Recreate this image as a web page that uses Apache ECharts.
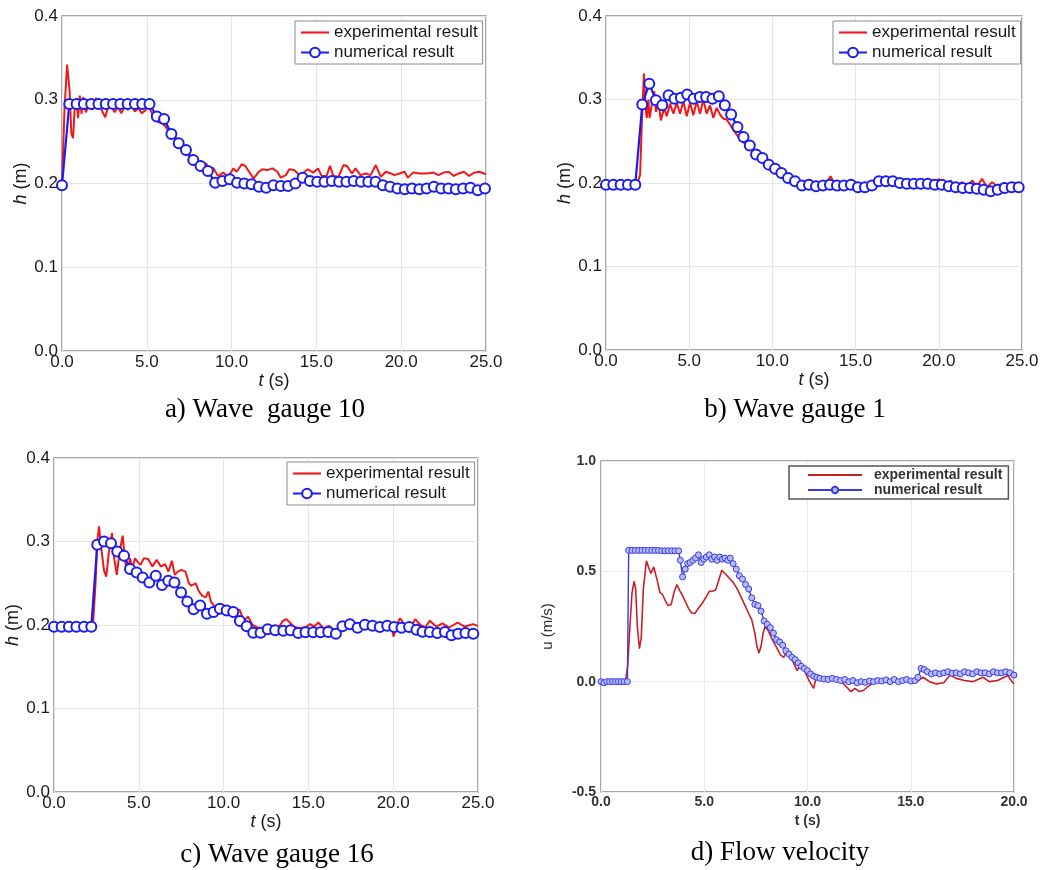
<!DOCTYPE html>
<html>
<head>
<meta charset="utf-8">
<script src="https://cdn.jsdelivr.net/npm/echarts@6/dist/echarts.min.js"></script>
<style>
html,body{margin:0;padding:0;background:#fff;}
#chart{width:1053px;height:870px;}
</style>
</head>
<body>
<div id="chart"></div>
<script>
// ---------- DATA ----------
const legendLabels = ['experimental result', 'numerical result'];
const captions = ['a) Wave  gauge 10', 'b) Wave gauge 1', 'c) Wave gauge 16', 'd) Flow velocity'];
const hTicks = [0.0, 0.1, 0.2, 0.3, 0.4];
const uTicks = [-0.5, 0.0, 0.5, 1.0];

// a) wave gauge 10  [t (s), h (m)]
const expA = [[0,0.200],[0.15,0.29],[0.3,0.342],[0.45,0.31],[0.55,0.26],[0.65,0.254],[0.75,0.29],[0.85,0.302],[0.95,0.278],[1.05,0.305],[1.15,0.283],[1.25,0.303],[1.4,0.285],[1.6,0.293],[1.8,0.288],[2.0,0.302],[2.2,0.295],[2.4,0.285],[2.55,0.279],[2.7,0.29],[2.9,0.293],[3.1,0.285],[3.3,0.291],[3.5,0.284],[3.7,0.292],[3.9,0.288],[4.1,0.294],[4.3,0.286],[4.5,0.29],[4.7,0.284],[4.9,0.287],[5.1,0.293],[5.3,0.284],[5.5,0.276],[5.7,0.273],[5.9,0.272],[6.1,0.268],[6.3,0.262],[6.5,0.256],[6.7,0.255],[6.9,0.252],[7.1,0.243],[7.3,0.236],[7.5,0.233],[7.7,0.23],[7.9,0.226],[8.1,0.224],[8.3,0.222],[8.5,0.224],[8.7,0.215],[8.9,0.219],[9.2,0.209],[9.5,0.213],[9.8,0.208],[10.1,0.218],[10.3,0.214],[10.6,0.223],[10.8,0.221],[11.1,0.212],[11.3,0.206],[11.6,0.214],[11.8,0.217],[12.1,0.216],[12.4,0.218],[12.7,0.214],[12.9,0.207],[13.2,0.210],[13.4,0.217],[13.7,0.216],[13.9,0.212],[14.1,0.207],[14.3,0.214],[14.5,0.217],[14.8,0.213],[15.1,0.218],[15.3,0.209],[15.6,0.209],[15.8,0.221],[16.0,0.209],[16.3,0.208],[16.6,0.222],[16.8,0.221],[17.1,0.212],[17.3,0.218],[17.6,0.210],[17.9,0.212],[18.2,0.210],[18.5,0.222],[18.8,0.208],[19.1,0.214],[19.4,0.212],[19.6,0.210],[19.9,0.212],[20.2,0.214],[20.4,0.207],[20.7,0.213],[21.1,0.212],[21.5,0.212],[21.9,0.213],[22.2,0.210],[22.5,0.213],[22.8,0.214],[23.1,0.209],[23.4,0.212],[23.7,0.214],[24.0,0.209],[24.3,0.213],[24.6,0.214],[25.0,0.211]];
const numA = [[0,0.198],[0.43,0.295],[0.86,0.295],[1.29,0.295],[1.72,0.295],[2.15,0.295],[2.58,0.295],[3.01,0.295],[3.44,0.295],[3.87,0.295],[4.30,0.295],[4.73,0.295],[5.16,0.295],[5.59,0.280],[6.02,0.277],[6.45,0.259],[6.88,0.248],[7.31,0.240],[7.74,0.228],[8.17,0.221],[8.60,0.215],[9.03,0.201],[9.46,0.203],[9.89,0.205],[10.32,0.201],[10.75,0.200],[11.18,0.199],[11.61,0.196],[12.04,0.195],[12.47,0.198],[12.90,0.197],[13.33,0.197],[13.76,0.200],[14.19,0.207],[14.62,0.203],[15.05,0.202],[15.48,0.202],[15.91,0.203],[16.34,0.202],[16.77,0.202],[17.20,0.203],[17.63,0.202],[18.06,0.202],[18.49,0.202],[18.92,0.198],[19.35,0.196],[19.78,0.194],[20.21,0.193],[20.64,0.194],[21.07,0.193],[21.50,0.194],[21.93,0.196],[22.36,0.194],[22.79,0.194],[23.22,0.193],[23.65,0.194],[24.08,0.195],[24.51,0.192],[24.94,0.194]];

// b) wave gauge 1
const expB = [[0,0.199],[0.5,0.199],[1.0,0.199],[1.5,0.199],[1.9,0.2],[2.05,0.21],[2.15,0.27],[2.28,0.331],[2.38,0.29],[2.45,0.278],[2.55,0.3],[2.62,0.278],[2.72,0.29],[2.9,0.31],[3.0,0.285],[3.15,0.297],[3.3,0.275],[3.5,0.29],[3.65,0.28],[3.85,0.295],[4.05,0.283],[4.25,0.296],[4.45,0.283],[4.65,0.298],[4.85,0.28],[5.05,0.296],[5.25,0.281],[5.45,0.298],[5.65,0.283],[5.85,0.3],[6.05,0.283],[6.25,0.293],[6.45,0.278],[6.65,0.29],[6.85,0.282],[7.05,0.277],[7.25,0.276],[7.45,0.27],[7.7,0.262],[8.0,0.254],[8.3,0.248],[8.6,0.243],[8.9,0.236],[9.2,0.232],[9.5,0.226],[9.8,0.222],[10.1,0.221],[10.4,0.215],[10.7,0.213],[10.95,0.211],[11.2,0.205],[11.5,0.2],[11.8,0.197],[12.1,0.196],[12.4,0.193],[12.7,0.195],[12.9,0.196],[13.2,0.2],[13.5,0.208],[13.8,0.196],[14.0,0.191],[14.3,0.198],[14.6,0.197],[15.0,0.201],[15.3,0.196],[15.6,0.2],[15.9,0.194],[16.3,0.198],[16.7,0.2],[17.1,0.198],[17.5,0.201],[17.9,0.196],[18.2,0.2],[18.5,0.196],[18.8,0.205],[19.1,0.197],[19.4,0.204],[19.7,0.196],[20.0,0.205],[20.4,0.195],[20.7,0.203],[21.0,0.196],[21.4,0.201],[21.7,0.195],[22.0,0.203],[22.3,0.196],[22.6,0.205],[22.9,0.195],[23.2,0.201],[23.5,0.196],[23.9,0.2],[24.2,0.195],[24.6,0.2],[25.0,0.197]];
const numB = [[0,0.198],[0.44,0.198],[0.88,0.198],[1.32,0.198],[1.76,0.198],[2.18,0.294],[2.6,0.319],[3.0,0.299],[3.38,0.293],[3.76,0.305],[4.12,0.301],[4.5,0.302],[4.88,0.306],[5.26,0.301],[5.64,0.303],[6.02,0.303],[6.4,0.301],[6.78,0.304],[7.14,0.293],[7.52,0.282],[7.9,0.267],[8.26,0.255],[8.64,0.245],[9.02,0.234],[9.4,0.230],[9.78,0.222],[10.16,0.217],[10.54,0.212],[10.94,0.206],[11.36,0.202],[11.78,0.197],[12.2,0.198],[12.62,0.196],[13.04,0.197],[13.46,0.198],[13.88,0.197],[14.3,0.197],[14.72,0.198],[15.14,0.195],[15.56,0.195],[15.98,0.197],[16.4,0.202],[16.82,0.202],[17.24,0.202],[17.66,0.2],[18.08,0.199],[18.5,0.199],[18.92,0.199],[19.34,0.199],[19.76,0.198],[20.18,0.198],[20.6,0.196],[21.02,0.195],[21.44,0.194],[21.86,0.194],[22.28,0.193],[22.7,0.192],[23.12,0.190],[23.54,0.192],[23.96,0.194],[24.38,0.195],[24.8,0.195]];

// c) wave gauge 16
const expC = [[0,0.198],[0.5,0.198],[1.0,0.198],[1.5,0.198],[2.0,0.198],[2.3,0.2],[2.45,0.25],[2.55,0.3],[2.65,0.318],[2.8,0.29],[2.95,0.265],[3.08,0.258],[3.25,0.29],[3.42,0.31],[3.55,0.28],[3.7,0.26],[3.85,0.285],[4.05,0.307],[4.2,0.275],[4.34,0.262],[4.48,0.28],[4.62,0.268],[4.78,0.28],[4.95,0.275],[5.1,0.272],[5.3,0.28],[5.55,0.279],[5.8,0.27],[6.05,0.278],[6.3,0.27],[6.55,0.273],[6.75,0.264],[6.95,0.277],[7.12,0.26],[7.3,0.264],[7.5,0.266],[7.75,0.264],[7.95,0.25],[8.1,0.247],[8.35,0.25],[8.55,0.24],[8.75,0.235],[8.95,0.233],[9.1,0.24],[9.25,0.228],[9.45,0.223],[9.7,0.222],[9.95,0.224],[10.2,0.222],[10.45,0.214],[10.7,0.219],[10.95,0.218],[11.2,0.205],[11.45,0.21],[11.7,0.2],[12.0,0.197],[12.4,0.196],[12.9,0.197],[13.3,0.199],[13.5,0.205],[13.7,0.207],[13.95,0.202],[14.15,0.198],[14.5,0.196],[14.9,0.198],[15.1,0.201],[15.35,0.198],[15.58,0.203],[15.9,0.196],[16.2,0.199],[16.6,0.193],[16.95,0.202],[17.3,0.198],[17.7,0.203],[18.0,0.195],[18.3,0.201],[18.6,0.2],[18.95,0.196],[19.3,0.201],[19.65,0.196],[19.9,0.199],[20.02,0.186],[20.2,0.2],[20.4,0.208],[20.7,0.2],[21.0,0.196],[21.3,0.207],[21.6,0.2],[21.9,0.197],[22.15,0.205],[22.55,0.198],[22.9,0.202],[23.3,0.197],[23.8,0.203],[24.2,0.198],[24.7,0.201],[25.0,0.199]];
const numC = [[0,0.198],[0.45,0.198],[0.88,0.198],[1.32,0.198],[1.77,0.198],[2.2,0.198],[2.55,0.296],[2.95,0.300],[3.36,0.298],[3.73,0.288],[4.13,0.283],[4.48,0.267],[4.87,0.263],[5.23,0.257],[5.62,0.251],[6.0,0.259],[6.37,0.248],[6.74,0.253],[7.1,0.251],[7.49,0.239],[7.86,0.228],[8.23,0.219],[8.62,0.2235],[9.02,0.2135],[9.41,0.2155],[9.78,0.2195],[10.18,0.2175],[10.57,0.2155],[10.96,0.2048],[11.36,0.1984],[11.75,0.1908],[12.18,0.1908],[12.6,0.195],[13.04,0.1936],[13.52,0.193],[13.95,0.1936],[14.4,0.1904],[14.83,0.1912],[15.28,0.1912],[15.72,0.1912],[16.17,0.1916],[16.62,0.1896],[17.01,0.1984],[17.45,0.2008],[17.9,0.1968],[18.33,0.2004],[18.78,0.1992],[19.21,0.1976],[19.65,0.1992],[20.06,0.1976],[20.49,0.1968],[20.94,0.1976],[21.37,0.1944],[21.73,0.192],[22.16,0.1916],[22.6,0.1904],[23.05,0.1916],[23.44,0.1876],[23.83,0.1896],[24.26,0.1904],[24.72,0.1896]];

// d) flow velocity  [t (s), u (m/s)]
const expD = [[0,0],[0.4,0],[0.8,0],[1.1,0],[1.2,0.01],[1.3,0.08],[1.4,0.25],[1.5,0.4],[1.6,0.455],[1.68,0.42],[1.76,0.25],[1.86,0.15],[1.95,0.2],[2.05,0.42],[2.2,0.548],[2.3,0.52],[2.42,0.49],[2.55,0.52],[2.62,0.525],[2.72,0.46],[2.85,0.405],[2.98,0.395],[3.1,0.37],[3.25,0.345],[3.4,0.35],[3.55,0.41],[3.68,0.44],[3.8,0.415],[3.95,0.39],[4.1,0.36],[4.25,0.33],[4.4,0.31],[4.55,0.31],[4.7,0.33],[4.9,0.355],[5.1,0.385],[5.25,0.41],[5.4,0.41],[5.55,0.415],[5.7,0.46],[5.85,0.505],[6.0,0.49],[6.2,0.47],[6.4,0.45],[6.6,0.42],[6.8,0.38],[7.0,0.34],[7.15,0.31],[7.3,0.28],[7.45,0.22],[7.55,0.16],[7.65,0.13],[7.75,0.16],[7.85,0.22],[7.95,0.25],[8.1,0.23],[8.3,0.19],[8.5,0.155],[8.7,0.12],[8.85,0.11],[9.0,0.14],[9.15,0.11],[9.3,0.09],[9.5,0.05],[9.65,0.08],[9.8,0.06],[9.95,0.03],[10.1,0.0],[10.3,-0.03],[10.45,0.03],[10.6,0.02],[10.9,0.01],[11.2,0.008],[11.5,0.005],[11.75,-0.01],[11.95,-0.03],[12.1,-0.045],[12.3,-0.03],[12.5,-0.045],[12.7,-0.04],[12.95,-0.02],[13.3,0.0],[13.8,0.005],[14.3,0.0],[14.8,0.005],[15.3,0.0],[15.6,0.02],[15.9,0.0],[16.25,-0.01],[16.6,-0.005],[16.9,0.03],[17.2,0.015],[17.6,0.005],[18.0,0.0],[18.5,0.02],[18.8,0.0],[19.2,0.005],[19.7,0.028],[19.9,0.0],[20.0,-0.01]];
const numD = [[0,0],[0.14,-0.005],[0.28,0],[0.42,0],[0.56,0],[0.7,0],[0.84,0],[0.98,0],[1.12,0],[1.28,0],[1.34,0.595],[1.5,0.595],[1.66,0.595],[1.82,0.595],[1.98,0.595],[2.14,0.595],[2.3,0.595],[2.46,0.595],[2.62,0.595],[2.78,0.595],[2.94,0.593],[3.1,0.593],[3.26,0.593],[3.42,0.593],[3.58,0.593],[3.76,0.593],[3.84,0.55],[3.95,0.475],[4.08,0.51],[4.2,0.535],[4.32,0.54],[4.45,0.55],[4.58,0.56],[4.72,0.575],[4.85,0.54],[4.98,0.555],[5.1,0.565],[5.24,0.575],[5.36,0.555],[5.5,0.565],[5.62,0.55],[5.75,0.565],[5.88,0.555],[6.0,0.56],[6.14,0.55],[6.26,0.56],[6.4,0.535],[6.55,0.51],[6.7,0.48],[6.85,0.465],[7.0,0.44],[7.15,0.42],[7.3,0.38],[7.45,0.35],[7.6,0.345],[7.75,0.32],[7.9,0.275],[8.05,0.26],[8.2,0.245],[8.35,0.22],[8.5,0.19],[8.65,0.18],[8.8,0.165],[8.95,0.14],[9.1,0.125],[9.25,0.11],[9.4,0.1],[9.55,0.085],[9.7,0.07],[9.85,0.06],[10.0,0.05],[10.15,0.035],[10.3,0.025],[10.45,0.02],[10.6,0.015],[10.8,0.012],[11.0,0.01],[11.2,0.015],[11.4,0.01],[11.6,0.005],[11.8,0.01],[12.0,0.0],[12.2,0.005],[12.4,-0.005],[12.6,0.0],[12.8,-0.003],[13.0,0.003],[13.2,0.0],[13.4,0.005],[13.6,0.003],[13.8,0.008],[14.0,0.0],[14.2,0.01],[14.4,0.0],[14.6,0.005],[14.8,0.01],[15.0,0.003],[15.2,0.005],[15.35,0.02],[15.5,0.06],[15.65,0.055],[15.8,0.045],[16.0,0.035],[16.2,0.04],[16.4,0.035],[16.6,0.04],[16.8,0.045],[17.0,0.038],[17.2,0.04],[17.4,0.035],[17.6,0.045],[17.8,0.04],[18.0,0.035],[18.2,0.045],[18.4,0.04],[18.6,0.04],[18.8,0.035],[19.0,0.045],[19.2,0.04],[19.4,0.04],[19.6,0.045],[19.8,0.04],[20.0,0.03]];

// ---------- CHART ----------
const FONT = '"Liberation Sans", Arial, sans-serif';
const SERIF = '"Liberation Serif", "Times New Roman", serif';
const RED = '#f01818', BLUE = '#1c1cf0';
const RED_D = '#c8202a', BLUE_D = '#3a3ae6';
const LINE_ICON = 'path://M0,0 H40 V3 H0 Z';
const LINE_ICON_D = 'path://M0,0 H40 V1.6 H0 Z';

const grids = [
  {left: 62, top: 16, width: 424, height: 335},
  {left: 606, top: 16, width: 416, height: 334},
  {left: 54, top: 458, width: 424, height: 334},
  {left: 601, top: 461, width: 413, height: 331}
].map(g => Object.assign({show: true, borderColor: '#8a8a8a', borderWidth: 1.5, backgroundColor: '#fff'}, g));

function hX(i) {
  return {
    type: 'value', gridIndex: i, min: 0, max: 25, interval: 5,
    name: '{it|t} (s)', nameLocation: 'middle', nameGap: 21,
    nameTextStyle: {fontSize: 18, fontFamily: FONT, color: '#1a1a1a', rich: {it: {fontStyle: 'italic', fontSize: 18, fontFamily: FONT, color: '#1a1a1a'}}},
    axisLine: {show: false}, axisTick: {show: false},
    axisLabel: {margin: 3, fontSize: 17, fontFamily: FONT, color: '#1a1a1a', formatter: v => v.toFixed(1)},
    splitLine: {show: true, lineStyle: {color: '#e6e6e6', width: 1}}
  };
}
function hY(i) {
  return {
    type: 'value', gridIndex: i, min: hTicks[0], max: hTicks[hTicks.length - 1], interval: 0.1,
    name: '{it|h} (m)', nameLocation: 'middle', nameGap: 30,
    nameTextStyle: {fontSize: 18, fontFamily: FONT, color: '#1a1a1a', rich: {it: {fontStyle: 'italic', fontSize: 18, fontFamily: FONT, color: '#1a1a1a'}}},
    axisLine: {show: false}, axisTick: {show: false},
    axisLabel: {margin: 4, fontSize: 17, fontFamily: FONT, color: '#1a1a1a', formatter: v => v.toFixed(1)},
    splitLine: {show: true, lineStyle: {color: '#e6e6e6', width: 1}}
  };
}

const xAxes = [hX(0), hX(1), hX(2), {
  type: 'value', gridIndex: 3, min: 0, max: 20, interval: 5,
  name: 't (s)', nameLocation: 'middle', nameGap: 22,
  nameTextStyle: {fontSize: 14, fontWeight: 'bold', fontFamily: FONT, color: '#333'},
  axisLine: {show: false}, axisTick: {show: false},
  axisLabel: {margin: 3, fontSize: 14, fontWeight: 'bold', fontFamily: FONT, color: '#333', formatter: v => v.toFixed(1)},
  splitLine: {show: true, lineStyle: {color: '#ececec', width: 1}}
}];
const yAxes = [hY(0), hY(1), hY(2), {
  type: 'value', gridIndex: 3, min: uTicks[0], max: uTicks[uTicks.length - 1], interval: 0.5,
  name: 'u (m/s)', nameLocation: 'middle', nameGap: 46,
  nameTextStyle: {fontSize: 15, fontFamily: FONT, color: '#333'},
  axisLine: {show: false}, axisTick: {show: false},
  axisLabel: {margin: 5, fontSize: 14, fontWeight: 'bold', fontFamily: FONT, color: '#333', formatter: v => v.toFixed(1)},
  splitLine: {show: true, lineStyle: {color: '#ececec', width: 1}}
}];

function expSeries(name, i, data, color, w) {
  return {name, type: 'line', xAxisIndex: i, yAxisIndex: i, data, showSymbol: false, symbol: 'none',
    lineStyle: {color, width: w}, itemStyle: {color}, z: 2, animation: false};
}
function numSeries(name, i, data) {
  return {name, type: 'line', xAxisIndex: i, yAxisIndex: i, data, symbol: 'emptyCircle', symbolSize: 10,
    showAllSymbol: true, lineStyle: {color: BLUE, width: 2.2},
    itemStyle: {color: BLUE, borderColor: BLUE, borderWidth: 2}, z: 3, animation: false};
}

const series = [
  expSeries('expA', 0, expA, RED, 2), numSeries('numA', 0, numA),
  expSeries('expB', 1, expB, RED, 2), numSeries('numB', 1, numB),
  expSeries('expC', 2, expC, RED, 2), numSeries('numC', 2, numC),
  expSeries('expD', 3, expD, RED_D, 1.6),
  {name: 'numD', type: 'line', xAxisIndex: 3, yAxisIndex: 3, data: numD, symbol: 'circle', symbolSize: 6,
    showAllSymbol: true, lineStyle: {color: BLUE_D, width: 1.4},
    itemStyle: {color: '#b8bcff', borderColor: BLUE_D, borderWidth: 1}, z: 3, animation: false}
];

const labelMap = {expA: legendLabels[0], expB: legendLabels[0], expC: legendLabels[0], expD: legendLabels[0],
                  numA: legendLabels[1], numB: legendLabels[1], numC: legendLabels[1], numD: legendLabels[1]};

function hLegend(left, top, e, n) {
  return {left, top, orient: 'vertical', itemGap: 3, padding: [3, 5, 3, 5], itemWidth: 28, itemHeight: 12,
    borderColor: '#8a8a8a', borderWidth: 1, backgroundColor: '#fff', selectedMode: false,
    textStyle: {fontSize: 17, fontFamily: FONT, color: '#1a1a1a'},
    data: [{name: e, icon: LINE_ICON}, {name: n}], formatter: k => labelMap[k]};
}
const legends = [
  hLegend(295, 21, 'expA', 'numA'),
  hLegend(833, 21, 'expB', 'numB'),
  hLegend(287, 462, 'expC', 'numC'),
  {left: 789, top: 466, orient: 'vertical', itemGap: 1, padding: [2, 6, 2, 18], itemWidth: 54, itemHeight: 8,
    borderColor: '#555', borderWidth: 1.5, backgroundColor: '#fff', selectedMode: false,
    textStyle: {fontSize: 14, fontWeight: 'bold', fontFamily: FONT, color: '#333', padding: [0, 0, 0, 7]},
    data: [{name: 'expD', icon: LINE_ICON_D}, {name: 'numD'}], formatter: k => labelMap[k]}
];

const capPos = [[265, 410], [795, 410], [277, 855], [780, 853]];
const graphic = captions.map((c, i) => ({
  type: 'text', x: capPos[i][0], y: capPos[i][1], silent: true,
  style: {text: c, font: '27px ' + SERIF, fill: '#000', align: 'center', verticalAlign: 'middle',
    textAlign: 'center', textVerticalAlign: 'middle'}
}));

const chart = echarts.init(document.getElementById('chart'), null, {renderer: 'canvas'});
chart.setOption({
  backgroundColor: '#fff',
  animation: false,
  grid: grids,
  xAxis: xAxes,
  yAxis: yAxes,
  legend: legends,
  series,
  graphic
});
</script>
</body>
</html>
